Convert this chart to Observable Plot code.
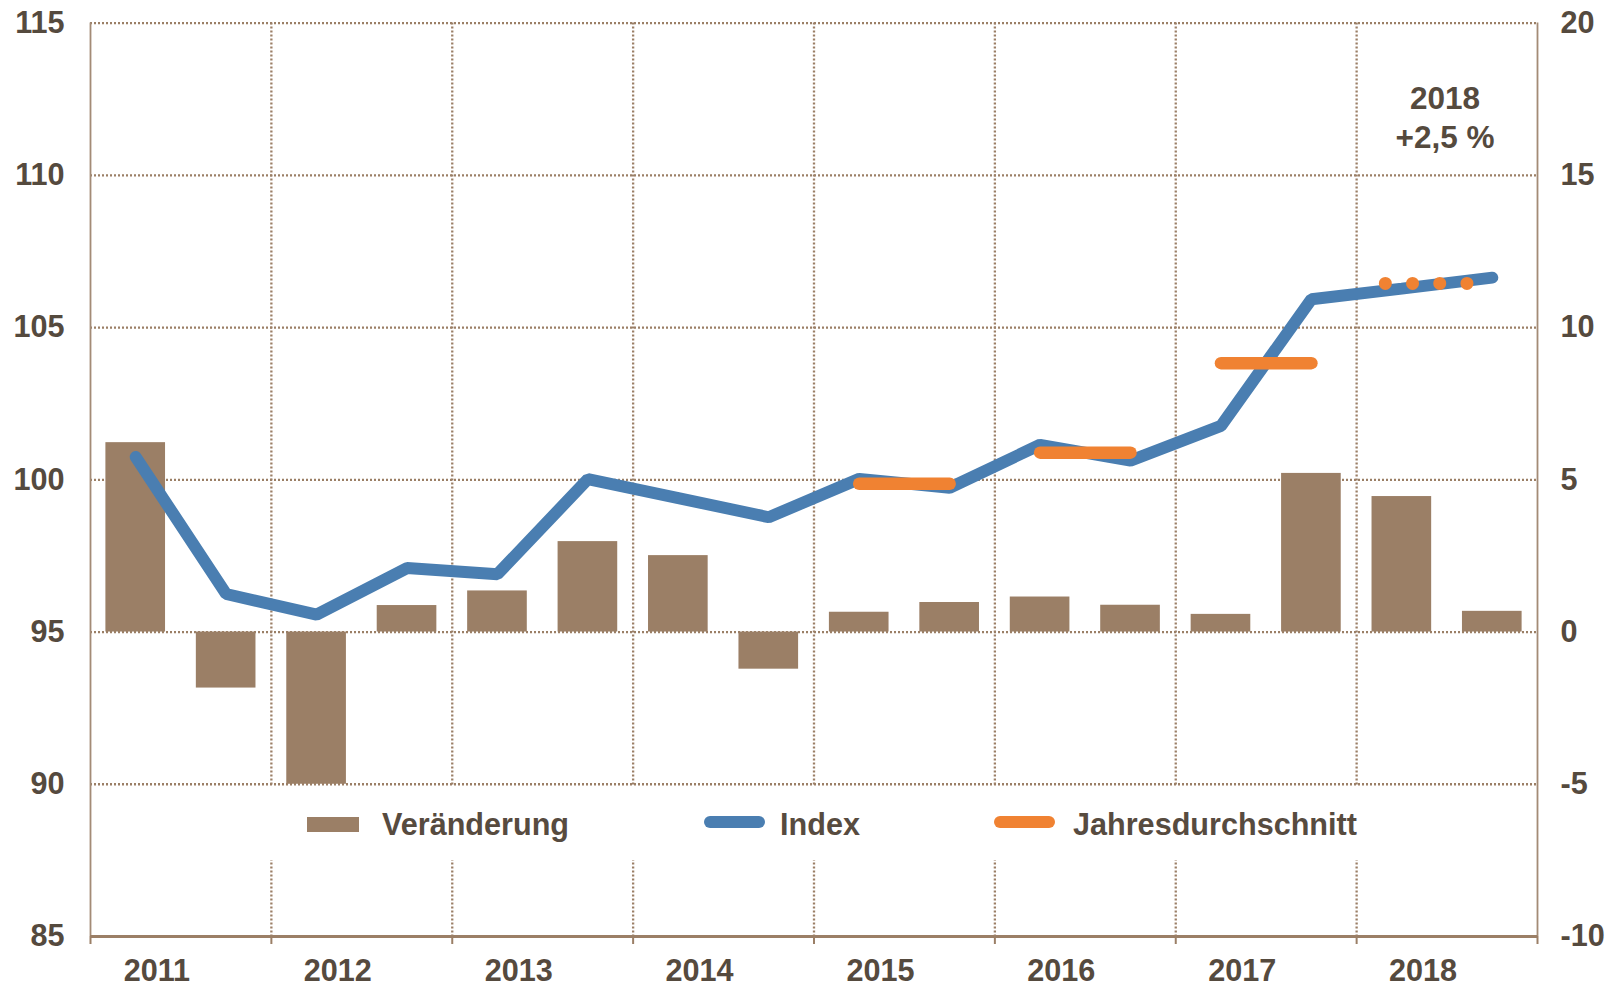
<!DOCTYPE html>
<html><head><meta charset="utf-8">
<script src="https://cdn.jsdelivr.net/npm/d3@7"></script>
<script src="https://cdn.jsdelivr.net/npm/@observablehq/plot@0.6"></script>
<style>
html,body{margin:0;padding:0;background:#fff;}
#wrap{position:relative;width:1611px;height:986px;font-family:"Liberation Sans",Arial,sans-serif;color:#574b3f;}
#wrap svg{display:block;}
#legend{position:absolute;left:93px;top:786px;width:1442px;height:74px;background:#fff;}
.sw{position:absolute;}
.lt{position:absolute;font-size:30.6px;font-weight:bold;line-height:30px;white-space:nowrap;}
</style></head><body><div id="wrap"></div>
<script>
// ---- data ----
const years = [2011, 2012, 2013, 2014, 2015, 2016, 2017, 2018];
const halves = ["H1", "H2"];
const changePct = [6.22, -1.84, -5.0, 0.87, 1.35, 2.97, 2.51, -1.22, 0.65, 0.97, 1.15, 0.88, 0.58, 5.21, 4.45, 0.68];
const indexValues = [100.75, 96.25, 95.57, 97.1, 96.9, 100.02, 99.4, 98.77, 100.03, 99.74, 101.15, 100.63, 101.77, 105.93, 106.28, 106.64];
const avgYears = [2015, 2016, 2017];
const avgValues = [99.87, 100.89, 103.83];
const provYears = [2018];
const provValues = [106.45];
const leftTicks = [85, 90, 95, 100, 105, 110, 115];
const rightTicks = [-10, -5, 0, 5, 10, 15, 20];
const legendLabels = ["Veränderung", "Index", "Jahresdurchschnitt"];
const annotation = {year: 2018, text: "2018\n+2,5 %"};

// ---- styles ----
const barColor = "#9b7f66";
const blue = "#4a7eb1";
const orange = "#f08232";
const gridColor = "#9b7f66";
const textColor = "#554a3e";

const leftDomain = [leftTicks[0], leftTicks[leftTicks.length - 1]];
const rightDomain = [rightTicks[0], rightTicks[rightTicks.length - 1]];
const toLeft = v => leftDomain[0] + (v - rightDomain[0]) * (leftDomain[1] - leftDomain[0]) / (rightDomain[1] - rightDomain[0]);

const periods = years.flatMap(y => halves.map((h, i) => ({year: y, x0: y + i / 2})));
const barData = periods.map((p, i) => ({x1: p.x0, x2: p.x0 + 0.5, v: changePct[i]}));
const lineData = periods.map((p, i) => ({x: p.x0 + 0.25, v: indexValues[i]}));
const avgData = avgYears.map((y, i) => ({year: y, v: avgValues[i]}));
const provData = provYears.map((y, i) => ({year: y, v: provValues[i]}));
const edges = years.concat([years[years.length - 1] + 1]);
const innerEdges = edges.slice(1, -1);

const dotted = {stroke: gridColor, strokeWidth: 2.3, strokeDasharray: "2,2"};
const font = {fontSize: 30.6, fontWeight: "bold", fill: textColor};

const chart = Plot.plot({
  width: 1611, height: 986,
  marginLeft: 90, marginRight: 74, marginTop: 22.6, marginBottom: 50,
  x: {type: "linear", domain: [edges[0], edges[edges.length - 1]], axis: null},
  y: {type: "linear", domain: leftDomain, axis: null},
  style: {fontFamily: "'Liberation Sans', Arial, sans-serif", color: textColor, background: "white"},
  marks: [
    Plot.ruleY(leftTicks.slice(1), dotted),
    Plot.ruleX(innerEdges, dotted),
    Plot.rect(barData, {x1: "x1", x2: "x2", y1: () => toLeft(0), y2: d => toLeft(d.v), fill: barColor, insetLeft: 15.4, insetRight: 15.4}),
    Plot.ruleX([edges[0], edges[edges.length - 1]], {stroke: "#a38b76", strokeWidth: 1.8}),
    Plot.ruleY([leftDomain[0]], {stroke: barColor, strokeWidth: 3}),
    Plot.axisX(edges, {tickSize: 8, tickFormat: () => "", stroke: barColor, strokeWidth: 2}),
    Plot.line(lineData, {x: "x", y: "v", stroke: blue, strokeWidth: 12, strokeLinecap: "round", strokeLinejoin: "miter"}),
    Plot.link(avgData, {x1: d => d.year + 0.25, x2: d => d.year + 0.75, y1: "v", y2: "v", stroke: orange, strokeWidth: 12.5, strokeLinecap: "round"}),
    Plot.link(provData, {x1: d => d.year + 0.25, x2: d => d.year + 0.75, y1: "v", y2: "v", stroke: orange, strokeWidth: 13, strokeLinecap: "round", strokeDasharray: "0,27.2", dx: -16.5}),
    Plot.text(leftTicks, {y: d => d, frameAnchor: "left", dx: -26, textAnchor: "end", lineAnchor: "middle", text: d => String(d), ...font}),
    Plot.text(rightTicks, {y: d => toLeft(d), frameAnchor: "right", dx: 23, textAnchor: "start", lineAnchor: "middle", text: d => String(d), ...font}),
    Plot.text(years, {x: d => d + 0.5, frameAnchor: "bottom", dy: 35, dx: -24, lineAnchor: "middle", text: d => String(d), ...font}),
    Plot.text([annotation], {x: d => d.year + 0.5, frameAnchor: "top", dy: 93, dx: -2, lineAnchor: "middle", lineHeight: 1.24, text: d => d.text, fontSize: 31.5, fontWeight: "bold", fill: textColor})
  ]
});

const wrap = document.getElementById("wrap");
wrap.appendChild(chart);

// legend (overlay box hides gridlines, as in original)
const legend = document.createElement("div");
legend.id = "legend";
const items = [
  {label: legendLabels[0], sw: {left: 214, top: 31, width: 52, height: 15, background: barColor, radius: 0}, tx: 289},
  {label: legendLabels[1], sw: {left: 611, top: 30, width: 61, height: 12, background: blue, radius: 6}, tx: 687},
  {label: legendLabels[2], sw: {left: 901, top: 30, width: 61, height: 12, background: orange, radius: 6}, tx: 980}
];
for (const it of items) {
  const s = document.createElement("div");
  s.className = "sw";
  Object.assign(s.style, {left: it.sw.left + "px", top: it.sw.top + "px", width: it.sw.width + "px", height: it.sw.height + "px", background: it.sw.background, borderRadius: it.sw.radius + "px"});
  legend.appendChild(s);
  const t = document.createElement("div");
  t.className = "lt";
  t.textContent = it.label;
  Object.assign(t.style, {left: it.tx + "px", top: "22.6px"});
  legend.appendChild(t);
}
wrap.appendChild(legend);
</script>
</body></html>
